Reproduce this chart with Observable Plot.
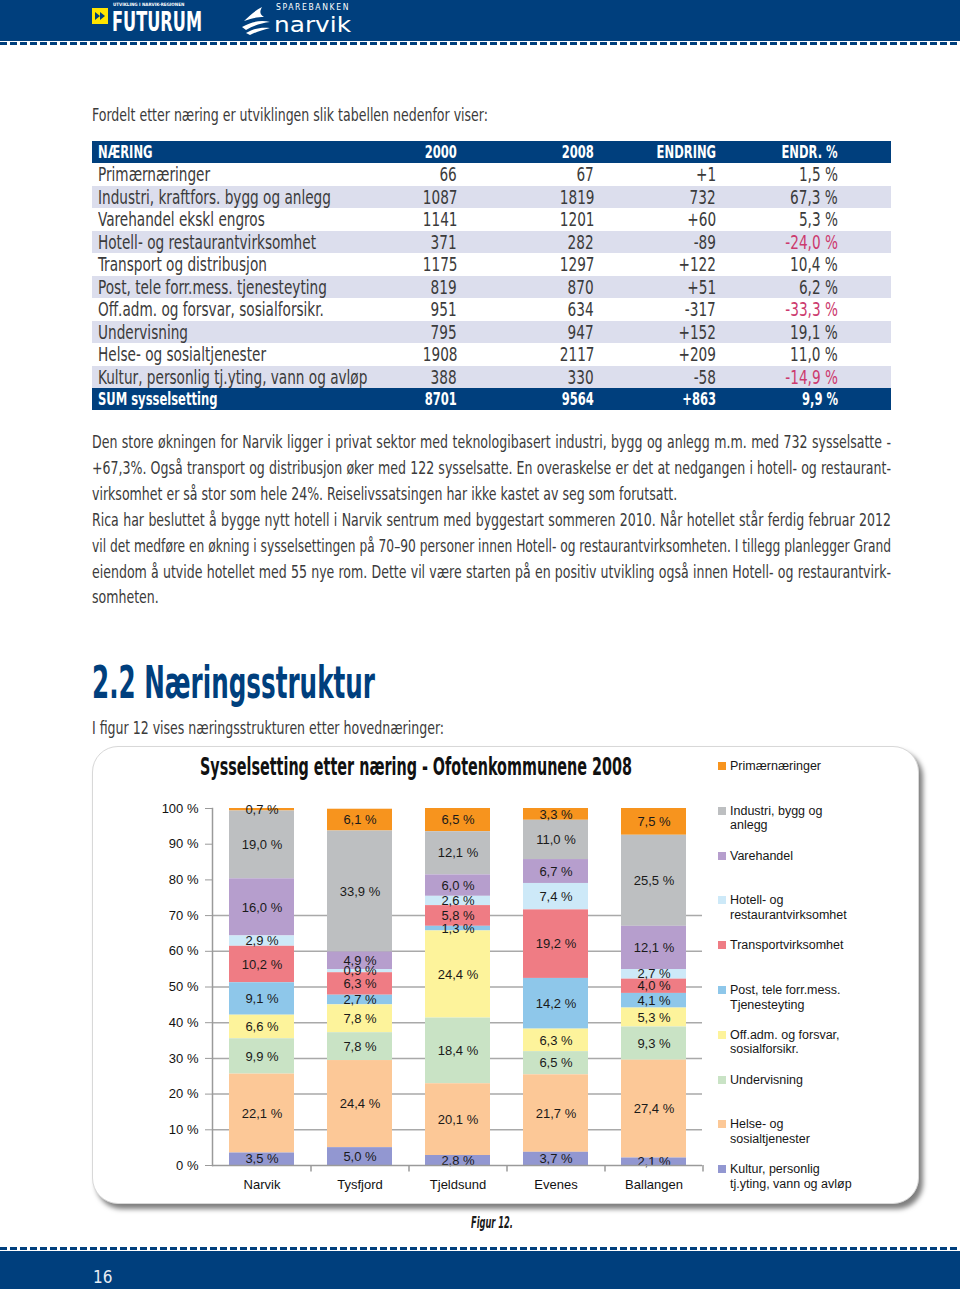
<!DOCTYPE html>
<html lang="no"><head><meta charset="utf-8">
<script src="https://cdn.jsdelivr.net/npm/d3@7"></script>
<script src="https://cdn.jsdelivr.net/npm/@observablehq/plot@0.6"></script>
<style>
html,body{margin:0;padding:0}
body{width:960px;height:1289px;position:relative;overflow:hidden;background:#fff;
 font-family:"Liberation Sans Narrow","DejaVu Sans Condensed","Arial Narrow",sans-serif;color:#3b3b3b}
.a{position:absolute;white-space:nowrap}
.sx{transform-origin:0 50%}
.r{transform-origin:100% 50%}
.dash{left:0;width:960px;height:3px;background:repeating-linear-gradient(90deg,#003f7d 0 7px,#fff 7px 10px)}
.leg{position:absolute;left:718px;width:140px;font-family:"Liberation Sans",Arial,sans-serif;font-size:12.5px;line-height:14.5px;color:#161616}
.leg i{position:absolute;left:0;top:3px;width:8px;height:8px}
.leg span{display:block;margin-left:12px;width:128px;white-space:normal}
</style>
</head><body>
<!-- header -->
<div class="a" style="left:0;top:0;width:960px;height:41px;background:#003f7d"></div>
<div class="a dash" style="top:42px"></div>
<svg class="a" style="left:92px;top:8px" width="16" height="16"><rect width="16" height="16" fill="#ffe500"/><path d="M3 4 L8 8 L3 12Z M8 4 L13 8 L8 12Z" fill="#003f7d"/></svg>
<div class="a" style="left:113px;top:2px;font-size:4.5px;line-height:5px;color:#fff;font-family:'DejaVu Sans Condensed',sans-serif;font-weight:bold">UTVIKLING I NARVIK-REGIONEN</div>
<div class="a fit" data-w="90" style="left:112px;top:11px;font-size:27px;line-height:22px;color:#fff;font-weight:bold;font-family:'DejaVu Sans Condensed',sans-serif">FUTURUM</div>
<svg class="a" style="left:240px;top:5px" width="36" height="30"><path d="M4 16 C10 10 16 5 22 2 C20 6 19 9 24 12 C18 12 12 13 4 16Z" fill="#fff"/><path d="M2 22 C12 16 22 15 30 17 C22 18 14 20 6 25Z" fill="#fff"/><path d="M6 28 C14 23 22 22 30 23 C22 25 16 27 10 30Z" fill="#fff"/></svg>
<div class="a fit" data-w="74" style="left:276px;top:2px;font-size:9.5px;line-height:9px;letter-spacing:2px;color:#fff;font-family:'DejaVu Sans',sans-serif">SPAREBANKEN</div>
<div class="a fit" data-w="77" style="left:274px;top:16px;font-size:22px;line-height:18px;color:#fff;font-family:'DejaVu Sans',sans-serif">narvik</div>

<div id="intro" class="a sx" style="left:92px;top:102px;font-size:17.5px;line-height:26px">Fordelt etter næring er utviklingen slik tabellen nedenfor viser:</div>
<div id="table"></div>
<div id="paras"></div>

<div class="a fit" data-w="283" style="left:92px;top:656px;font-size:44px;line-height:54px;color:#003f7d;font-weight:bold">2.2 Næringsstruktur</div>
<div class="a sx" style="left:92px;top:715px;font-size:17.5px;line-height:26px">I figur 12 vises næringsstrukturen etter hovednæringer:</div>

<!-- chart panel -->
<div class="a" style="left:92px;top:746px;width:825px;height:456px;border:1px solid #d8d8d8;border-radius:26px;box-shadow:4px 5px 5px rgba(0,0,0,0.5);background:#fff"></div>
<div class="a fit" data-w="432" style="left:200px;top:752px;font-size:24px;line-height:30px;color:#111;font-weight:bold">Sysselsetting etter næring - Ofotenkommunene 2008</div>
<div id="chart" class="a" style="left:140px;top:795px"></div>
<div id="legend"></div>

<div class="a fit" data-w="42" style="left:471px;top:1213px;font-size:15px;line-height:20px;color:#1a1a1a;font-weight:bold;font-style:italic">Figur 12.</div>

<!-- footer -->
<div class="a dash" style="top:1247px"></div>
<div class="a" style="left:0;top:1251px;width:960px;height:38px;background:#003f7d"></div>
<div class="a" style="left:93px;top:1266px;font-size:17px;line-height:22px;color:#e6edf5;font-family:'DejaVu Sans Condensed',sans-serif;font-weight:200">16</div>

<script>
// ---------- table data ----------
const tableHeaders = ["NÆRING", "2000", "2008", "ENDRING", "ENDR. %"];
const tableNames = ["Primærnæringer", "Industri, kraftfors. bygg og anlegg", "Varehandel ekskl engros",
  "Hotell- og restaurantvirksomhet", "Transport og distribusjon", "Post, tele forr.mess. tjenesteyting",
  "Off.adm. og forsvar, sosialforsikr.", "Undervisning", "Helse- og sosialtjenester",
  "Kultur, personlig tj.yting, vann og avløp"];
const col2000 = ["66", "1087", "1141", "371", "1175", "819", "951", "795", "1908", "388"];
const col2008 = ["67", "1819", "1201", "282", "1297", "870", "634", "947", "2117", "330"];
const colChange = ["+1", "732", "+60", "-89", "+122", "+51", "-317", "+152", "+209", "-58"];
const colPct = ["1,5 %", "67,3 %", "5,3 %", "-24,0 %", "10,4 %", "6,2 %", "-33,3 %", "19,1 %", "11,0 %", "-14,9 %"];
const sumRow = ["SUM sysselsetting", "8701", "9564", "+863", "9,9 %"];

const para1 = [
  "Den store økningen for Narvik ligger i privat sektor med teknologibasert industri, bygg og anlegg m.m. med 732 sysselsatte -",
  "+67,3%. Også transport og distribusjon øker med 122 sysselsatte. En overaskelse er det at nedgangen i hotell- og restaurant-",
  "virksomhet er så stor som hele 24%. Reiselivssatsingen har ikke kastet av seg som forutsatt."];
const para2 = [
  "Rica har besluttet å bygge nytt hotell i Narvik sentrum med byggestart sommeren 2010. Når hotellet står ferdig februar 2012",
  "vil det medføre en økning i sysselsettingen på 70–90 personer innen Hotell- og restaurantvirksomheten. I tillegg planlegger Grand",
  "eiendom å utvide hotellet med 55 nye rom. Dette vil være starten på en positiv utvikling også innen Hotell- og restaurantvirk-",
  "somheten."];

// ---------- chart data ----------
const places = ["Narvik", "Tysfjord", "Tjeldsund", "Evenes", "Ballangen"];
const sectors = ["Primærnæringer", "Industri, bygg og anlegg", "Varehandel", "Hotell- og restaurantvirksomhet",
  "Transportvirksomhet", "Post, tele forr.mess. Tjenesteyting", "Off.adm. og forsvar, sosialforsikr.",
  "Undervisning", "Helse- og sosialtjenester", "Kultur, personlig tj.yting, vann og avløp"];
const colors = ["#f7941e", "#bdbfc1", "#b69ecd", "#cde9f8", "#ef7c84", "#8ec7ea", "#fdf39b", "#c9e3c5", "#fcc897", "#9297d1"];
const primaer      = [0.7, 6.1, 6.5, 3.3, 7.5];
const industri     = [19.0, 33.9, 12.1, 11.0, 25.5];
const varehandel   = [16.0, 4.9, 6.0, 6.7, 12.1];
const hotell       = [2.9, 0.9, 2.6, 7.4, 2.7];
const transport    = [10.2, 6.3, 5.8, 19.2, 4.0];
const post         = [9.1, 2.7, 1.3, 14.2, 4.1];
const offadm       = [6.6, 7.8, 24.4, 6.3, 5.3];
const undervisning = [9.9, 7.8, 18.4, 6.5, 9.3];
const helse        = [22.1, 24.4, 20.1, 21.7, 27.4];
const kultur       = [3.5, 5.0, 2.8, 3.7, 2.1];
const shares = [primaer, industri, varehandel, hotell, transport, post, offadm, undervisning, helse, kultur];
const yTicks = [0, 10, 20, 30, 40, 50, 60, 70, 80, 90, 100];
const gridTicks = [10, 20, 30, 40, 50, 60, 70];

// ---------- scaling helpers ----------
function natural(el) { return el.getBoundingClientRect().width; }
const intro = document.getElementById("intro");
const S = 396 / natural(intro);
document.querySelectorAll(".sx").forEach(el => el.style.transform = `scaleX(${S})`);
document.querySelectorAll(".fit").forEach(el => {
  el.style.transformOrigin = "0 50%";
  el.style.transform = `scaleX(${(+el.dataset.w) / natural(el)})`;
});

// ---------- table ----------
const tbl = document.getElementById("table");
const colRight = [457, 594, 716, 838];
const rowTop0 = 140.5, rowH = 22.5;
function addRow(i, cells, bg, color, bold) {
  const top = rowTop0 + i * rowH;
  const bar = document.createElement("div");
  bar.className = "a";
  Object.assign(bar.style, {left: "92px", top: top + "px", width: "799px", height: (rowH - 0.5) + "px", background: bg});
  tbl.appendChild(bar);
  cells.forEach((c, k) => {
    const d = document.createElement("div");
    d.className = "a " + (k === 0 ? "sx" : "r");
    d.textContent = c.text;
    Object.assign(d.style, {top: top + "px", lineHeight: rowH + "px", fontSize: bold ? "17.5px" : "19px",
      color: c.color || color, fontWeight: bold ? "bold" : "normal", transform: `scaleX(${bold ? S * 0.92 : S})`});
    if (k === 0) d.style.left = "98px"; else d.style.right = (960 - colRight[k - 1]) + "px";
    tbl.appendChild(d);
  });
}
addRow(0, tableHeaders.map(t => ({text: t})), "#003f7d", "#fff", true);
tableNames.forEach((n, j) => {
  addRow(j + 1, [n, col2000[j], col2008[j], colChange[j], colPct[j]].map((t, k) =>
    ({text: t, color: (k === 4 && t.startsWith("-")) ? "#cc3a6e" : null})),
    j % 2 ? "#dcdeed" : "#fff", "#3b3b3b", false);
});
addRow(11, sumRow.map(t => ({text: t})), "#003f7d", "#fff", true);

// ---------- paragraphs ----------
const paras = document.getElementById("paras");
const lineY0 = 429, lineStep = 25.9;
[...para1.map((t, i) => [t, i < para1.length - 1]), ...para2.map((t, i) => [t, i < para2.length - 1])]
  .forEach(([t, just], k) => {
    const d = document.createElement("div");
    d.className = "a sx";
    d.textContent = t;
    Object.assign(d.style, {left: "92px", top: (lineY0 + k * lineStep) + "px", fontSize: "17.5px", lineHeight: "26px"});
    paras.appendChild(d);
    const nat = natural(d);
    if (just) {
      if (nat * S > 799) { d.style.transform = `scaleX(${799 / nat})`; }
      else {
        Object.assign(d.style, {width: (799 / S) + "px", whiteSpace: "normal", textAlign: "justify", textAlignLast: "justify", transform: `scaleX(${S})`});
      }
    } else d.style.transform = `scaleX(${S})`;
  });

// ---------- chart ----------
const rows = sectors.flatMap((s, i) => places.map((p, j) => ({place: p, sector: s, value: shares[i][j]})));
const stackOrder = sectors.slice().reverse();
const fmt = v => v.toFixed(1).replace(".", ",") + " %";
const axisGray = "#9a9a9a";
const chart = Plot.plot({
  width: 580, height: 410,
  marginLeft: 72, marginRight: 18, marginTop: 13, marginBottom: 40,
  style: {fontFamily: "'Liberation Sans', Arial, sans-serif", fontSize: "13px", color: "#111", background: "transparent", overflow: "visible"},
  x: {domain: places, paddingInner: 0.337, paddingOuter: 0.165, label: null},
  y: {domain: [0, 100], label: null},
  color: {domain: sectors, range: colors},
  marks: [
    Plot.ruleY(gridTicks, {stroke: "#a9a9a9", strokeWidth: 1.5}),
    Plot.barY(rows, {x: "place", y: "value", fill: "sector", z: "sector", order: stackOrder}),
    Plot.text(rows, Plot.stackY({x: "place", y: "value", z: "sector", order: stackOrder,
      text: d => fmt(d.value), fill: "#1a1a1a", fontSize: 13})),
    Plot.ruleX(places, {x: d => d, dx: 49, y1: 0, y2: -1.8, stroke: axisGray, strokeWidth: 1.5}),
    Plot.ruleY([0], {stroke: axisGray, strokeWidth: 1.5}),
    Plot.frame({anchor: "left", stroke: axisGray, strokeWidth: 1.5}),
    Plot.axisY({ticks: yTicks, tickFormat: d => d + " %", tickSize: 7, tickPadding: 7, stroke: axisGray, fill: "#111", fontSize: 13, label: null}),
    Plot.axisX({tickSize: 0, tickPadding: 14, fill: "#111", fontSize: 13, label: null})
  ]
});
document.getElementById("chart").appendChild(chart);

// ---------- legend ----------
const leg = document.getElementById("legend");
sectors.forEach((s, i) => {
  const d = document.createElement("div");
  d.className = "leg";
  d.style.top = (759 + i * 44.8) + "px";
  d.innerHTML = `<i style="background:${colors[i]}"></i><span></span>`;
  d.querySelector("span").textContent = s;
  leg.appendChild(d);
});
</script>
</body></html>
